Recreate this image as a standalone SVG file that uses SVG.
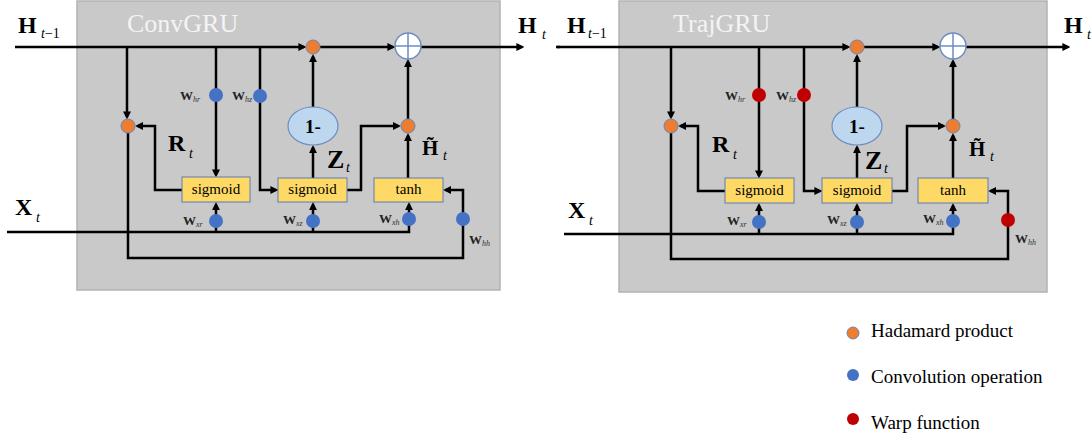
<svg xmlns="http://www.w3.org/2000/svg" width="1092" height="440" viewBox="0 0 1092 440" font-family="'Liberation Serif', 'DejaVu Serif', serif">
<defs>
<marker id="ah" viewBox="0 0 10 10" refX="7" refY="5" markerWidth="8" markerHeight="8" markerUnits="userSpaceOnUse" orient="auto"><path d="M0,0 L10,5 L0,10 z" fill="#000"/></marker>
<style>
.panel{fill:#c9c9c9;stroke:#b2b2b2;stroke-width:1.5}
.ln{fill:none;stroke:#000;stroke-width:2.5}
.arr{fill:none;stroke:#000;stroke-width:2.5;marker-end:url(#ah)}
.box{fill:#ffd966;stroke:#5b7bb5;stroke-width:1}
.had{fill:#ed7d31;stroke:#6a84b8;stroke-width:1}
.conv{fill:#4472c4}
.warp{fill:#c00000}
.plus{fill:#fff;stroke:#6f8cc4;stroke-width:1.5}
.one{fill:#bdd7ee;stroke:#6f8cc4;stroke-width:1.2}
text{fill:#000}
.title{font-size:26px;fill:#f4f4f4}
.big{font-size:24px;font-weight:bold}
.sub{font-size:14px;font-style:italic}
.subn{font-size:14px}
.fn{font-size:15px}
.w{font-size:13px;font-weight:bold;fill:#222}
.ws{font-size:8px;font-style:italic;fill:#333}
.leg{font-size:19px}
</style>
</defs>

<!-- panels -->
<rect id="panel-convgru" class="panel" x="77" y="1" width="423" height="289"/>
<rect id="panel-trajgru" class="panel" x="619" y="1" width="428" height="291"/>

<!-- ================= connectors ================= -->
<g id="connectors">
  <!-- left panel -->
  <path class="arr" d="M15,47 H304"/>
  <path class="arr" d="M320,47 H393"/>
  <path class="arr" d="M421,47 H522"/>
  <path class="ln" d="M556,47 H560"/>
  <path class="arr" d="M127,47 V117"/>
  <path class="arr" d="M182,190 H155 V126 H137.5"/>
  <path class="arr" d="M128,133 V258 H463 V190 H445.5"/>
  <path class="arr" d="M216,47 V175"/>
  <path class="arr" d="M260,47 V190 H276"/>
  <path class="arr" d="M7,232 H409 V204.5"/>
  <path class="arr" d="M216,232 V204.5"/>
  <path class="arr" d="M313,232 V204.5"/>
  <path class="arr" d="M313,178 V147.5"/>
  <path class="arr" d="M313,107 V56.5"/>
  <path class="arr" d="M347,190 H361 V126 H398.5"/>
  <path class="arr" d="M408,178 V135.5"/>
  <path class="arr" d="M408,119 V61.5"/>
  <!-- right panel -->
  <path class="arr" d="M557,47 H848"/>
  <path class="arr" d="M864,47 H938"/>
  <path class="arr" d="M966,47 H1068"/>
  <path class="arr" d="M671,47 V117"/>
  <path class="arr" d="M725,191 H698 V126 H680.5"/>
  <path class="arr" d="M671,133 V259 H1008 V191 H990.5"/>
  <path class="arr" d="M759,47 V176"/>
  <path class="arr" d="M804,47 V191 H820"/>
  <path class="arr" d="M564,234 H953 V205.5"/>
  <path class="arr" d="M759,234 V205.5"/>
  <path class="arr" d="M857,234 V205.5"/>
  <path class="arr" d="M857,178 V147.5"/>
  <path class="arr" d="M857,107 V56.5"/>
  <path class="arr" d="M892,191 H907 V126 H943.5"/>
  <path class="arr" d="M953,178 V135.5"/>
  <path class="arr" d="M953,119 V61.5"/>
</g>

<!-- ================= left panel nodes ================= -->
<text id="title-convgru" class="title" x="127" y="32">ConvGRU</text>
<g id="lbl-h-prev-l"><text class="big" x="18" y="33">H</text><text x="41" y="38"><tspan class="sub">t</tspan><tspan class="subn">−1</tspan></text></g>
<g id="lbl-h-out-l"><text class="big" x="518" y="33">H</text><text class="sub" x="542" y="39">t</text></g>
<g id="lbl-x-l"><text class="big" x="15" y="215">X</text><text class="sub" x="36" y="222">t</text></g>
<g id="lbl-r-l"><text class="big" x="168" y="151">R</text><text class="sub" x="189" y="158">t</text></g>
<g id="lbl-z-l"><text class="big" x="327" y="168" style="font-size:26px">Z</text><text class="sub" x="346" y="172">t</text></g>
<g id="lbl-ht-l"><text class="big" x="422" y="155" style="font-size:21px">H&#x303;</text><text class="sub" x="443" y="160">t</text></g>

<g id="had-r-l"><circle class="had" cx="128" cy="126" r="7"/></g>
<g id="had-z-l"><circle class="had" cx="313" cy="47" r="7"/></g>
<g id="had-h-l"><circle class="had" cx="408" cy="126" r="7"/></g>
<g id="plus-l"><circle class="plus" cx="408" cy="46" r="13"/><path d="M395,46 H421 M408,33 V59" stroke="#6f8cc4" stroke-width="1.5"/></g>
<g id="one-minus-l"><ellipse class="one" cx="313" cy="126" rx="25" ry="19"/><text x="313" y="133" text-anchor="middle" style="font-size:19px;font-weight:bold">1-</text></g>
<g id="sig-r-l"><rect class="box" x="182" y="177" width="68" height="25"/><text class="fn" x="216" y="194" text-anchor="middle">sigmoid</text></g>
<g id="sig-z-l"><rect class="box" x="278" y="178" width="69" height="24"/><text class="fn" x="312.5" y="194" text-anchor="middle">sigmoid</text></g>
<g id="tanh-l"><rect class="box" x="374" y="178" width="69" height="24"/><text class="fn" x="408.5" y="194" text-anchor="middle">tanh</text></g>

<g id="w-hr-l"><circle class="conv" cx="216" cy="95" r="7"/><text class="w" x="180" y="100">W</text><text class="ws" x="193" y="102">hr</text></g>
<g id="w-hz-l"><circle class="conv" cx="260" cy="96" r="7"/><text class="w" x="232" y="100">W</text><text class="ws" x="245" y="102">hz</text></g>
<g id="w-xr-l"><circle class="conv" cx="216" cy="221" r="7"/><text class="w" x="183" y="225">W</text><text class="ws" x="196" y="227">xr</text></g>
<g id="w-xz-l"><circle class="conv" cx="313" cy="221" r="7"/><text class="w" x="283" y="224">W</text><text class="ws" x="296" y="226">xz</text></g>
<g id="w-xh-l"><circle class="conv" cx="409" cy="219" r="7"/><text class="w" x="379" y="223">W</text><text class="ws" x="392" y="225">xh</text></g>
<g id="w-hh-l"><circle class="conv" cx="463" cy="219" r="7"/><text class="w" x="469" y="244">W</text><text class="ws" x="482" y="246">hh</text></g>

<!-- ================= right panel nodes ================= -->
<text id="title-trajgru" class="title" x="673" y="32">TrajGRU</text>
<g id="lbl-h-prev-r"><text class="big" x="567" y="33">H</text><text x="588" y="38"><tspan class="sub">t</tspan><tspan class="subn">−1</tspan></text></g>
<g id="lbl-h-out-r"><text class="big" x="1064" y="33">H</text><text class="sub" x="1087" y="39">t</text></g>
<g id="lbl-x-r"><text class="big" x="568" y="218">X</text><text class="sub" x="589" y="225">t</text></g>
<g id="lbl-r-r"><text class="big" x="712" y="152">R</text><text class="sub" x="733" y="159">t</text></g>
<g id="lbl-z-r"><text class="big" x="865" y="169" style="font-size:26px">Z</text><text class="sub" x="884" y="173">t</text></g>
<g id="lbl-ht-r"><text class="big" x="969" y="156" style="font-size:21px">H&#x303;</text><text class="sub" x="990" y="161">t</text></g>

<g id="had-r-r"><circle class="had" cx="671" cy="126" r="7"/></g>
<g id="had-z-r"><circle class="had" cx="857" cy="47" r="7"/></g>
<g id="had-h-r"><circle class="had" cx="953" cy="126" r="7"/></g>
<g id="plus-r"><circle class="plus" cx="953" cy="46" r="13"/><path d="M940,46 H966 M953,33 V59" stroke="#6f8cc4" stroke-width="1.5"/></g>
<g id="one-minus-r"><ellipse class="one" cx="857" cy="126" rx="25" ry="19"/><text x="857" y="133" text-anchor="middle" style="font-size:19px;font-weight:bold">1-</text></g>
<g id="sig-r-r"><rect class="box" x="725" y="178" width="69" height="25"/><text class="fn" x="759.5" y="195" text-anchor="middle">sigmoid</text></g>
<g id="sig-z-r"><rect class="box" x="822" y="178" width="70" height="25"/><text class="fn" x="857" y="195" text-anchor="middle">sigmoid</text></g>
<g id="tanh-r"><rect class="box" x="918" y="178" width="70" height="25"/><text class="fn" x="953" y="195" text-anchor="middle">tanh</text></g>

<g id="w-hr-r"><circle class="warp" cx="759" cy="95" r="7"/><text class="w" x="725" y="100">W</text><text class="ws" x="738" y="102">hr</text></g>
<g id="w-hz-r"><circle class="warp" cx="804" cy="95" r="7"/><text class="w" x="776" y="100">W</text><text class="ws" x="789" y="102">hz</text></g>
<g id="w-xr-r"><circle class="conv" cx="759" cy="222" r="7"/><text class="w" x="727" y="225">W</text><text class="ws" x="740" y="227">xr</text></g>
<g id="w-xz-r"><circle class="conv" cx="857" cy="222" r="7"/><text class="w" x="827" y="224">W</text><text class="ws" x="840" y="226">xz</text></g>
<g id="w-xh-r"><circle class="conv" cx="953" cy="221" r="7"/><text class="w" x="923" y="223">W</text><text class="ws" x="936" y="225">xh</text></g>
<g id="w-hh-r"><circle class="warp" cx="1008" cy="220" r="7"/><text class="w" x="1015" y="243">W</text><text class="ws" x="1028" y="245">hh</text></g>

<!-- ================= legend ================= -->
<g id="legend-hadamard"><circle class="had" cx="853" cy="333" r="6"/><text class="leg" x="871" y="337">Hadamard product</text></g>
<g id="legend-conv"><circle class="conv" cx="853" cy="375" r="6"/><text class="leg" x="871" y="383">Convolution operation</text></g>
<g id="legend-warp"><circle class="warp" cx="853" cy="419" r="6"/><text class="leg" x="871" y="429">Warp function</text></g>
</svg>
